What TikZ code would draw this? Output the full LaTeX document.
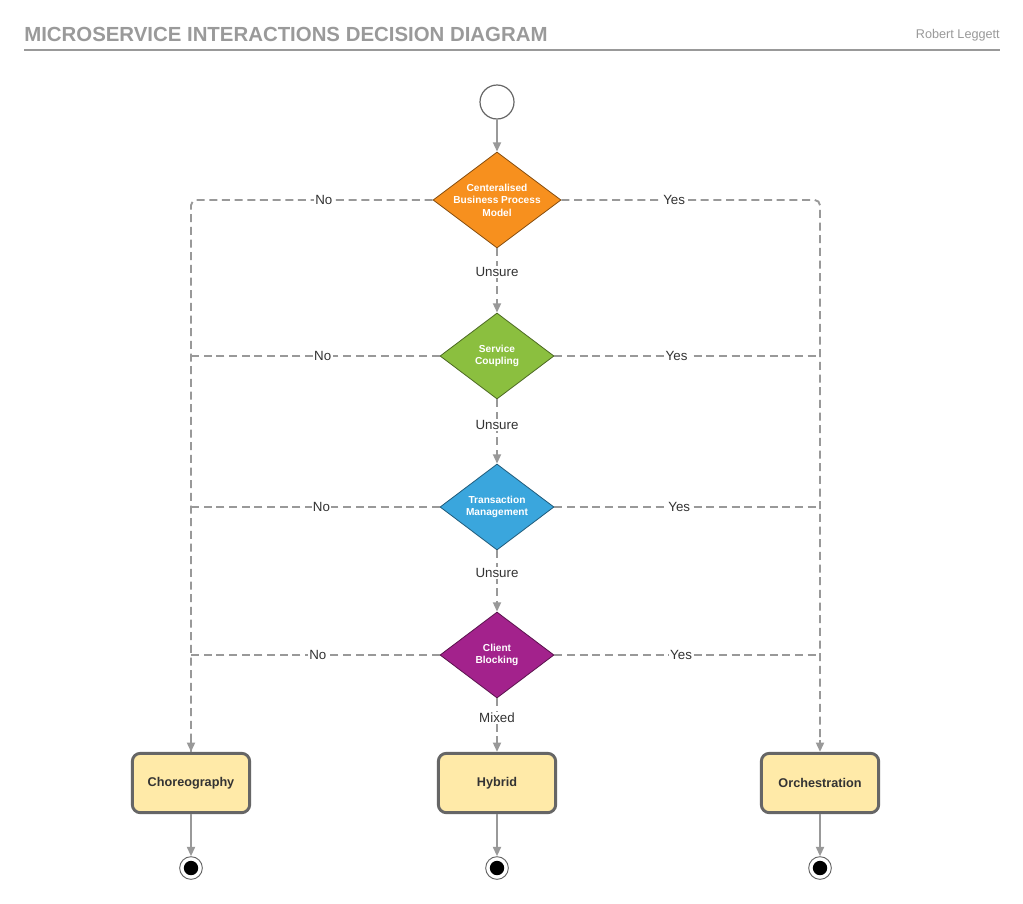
\documentclass[tikz,border=0pt]{standalone}
\usepackage{fontspec}
\setmainfont{Liberation Sans}
\usetikzlibrary{shapes.geometric,arrows.meta}
\definecolor{titlegray}{HTML}{9A9A9A}
\definecolor{linegray}{HTML}{999999}
\definecolor{labelgray}{HTML}{333333}
\definecolor{dorange}{HTML}{F7901E}
\definecolor{dgreen}{HTML}{8BBF3F}
\definecolor{dblue}{HTML}{3AA6DD}
\definecolor{dpurple}{HTML}{A3228C}
\definecolor{boxfill}{HTML}{FFEAA8}
\definecolor{boxline}{HTML}{666666}
\tikzset{
  decision/.style={diamond, draw=#1!55!black, fill=#1, line width=0.6pt, inner sep=0pt,
    minimum width=85.5pt, minimum height=64.5pt},
  dtext/.style={align=center, text=white, font=\bfseries\fontsize{7.6}{9.4}\selectfont},
  outcome/.style={rectangle, rounded corners=6pt, draw=boxline, fill=boxfill, line width=2.2pt,
    minimum width=88pt, minimum height=44.5pt, text=labelgray, font=\bfseries\fontsize{9.5}{11}\selectfont},
  startnode/.style={circle, draw=boxline, fill=white, line width=0.9pt, minimum size=25.5pt, inner sep=0pt},
  endnode/.style={circle, draw=boxline, fill=white, line width=0.7pt, minimum size=17pt, inner sep=0pt,
    path picture={\fill[black] (path picture bounding box.center) circle (5.4pt);}},
  flow/.style={draw=linegray, line width=1.4pt, -{Triangle[length=7pt,width=6pt]}},
  dflow/.style={draw=linegray, line width=1.4pt, dash pattern=on 6pt off 3.5pt},
  arrowtip/.style={-{Triangle[length=7pt,width=6pt]}},
  lbl/.style={fill=white, inner sep=1pt, text=labelgray, font=\fontsize{10}{12}\selectfont}
}
\begin{document}
\begin{tikzpicture}[x=0.75pt,y=-0.75pt]
\useasboundingbox[fill=white] (0,0) rectangle (1023,903);

% header
\node[anchor=base west, inner sep=0pt, text=titlegray, font=\bfseries\fontsize{15.3}{18}\selectfont] (title) at (24,41) {MICROSERVICE INTERACTIONS DECISION DIAGRAM};
\node[anchor=base east, inner sep=0pt, text=titlegray, font=\fontsize{9.5}{11}\selectfont] (author) at (1000,38) {Robert Leggett};
\coordinate (ruleL) at (24,50);
\coordinate (ruleR) at (1000,50);
\draw[linegray, line width=0.8pt] (ruleL) -- (ruleR);

% nodes
\node[startnode] (start) at (497,102) {};
\node[decision=dorange, minimum width=96pt, minimum height=72pt,
  label={[dtext]center:Centeralised\\Business Process\\Model}] (d1) at (497,200) {};
\node[decision=dgreen, label={[dtext]center:Service\\Coupling}] (d2) at (497,356) {};
\node[decision=dblue, label={[dtext]center:Transaction\\Management}] (d3) at (497,507) {};
\node[decision=dpurple, label={[dtext]center:Client\\Blocking}] (d4) at (497,655) {};

\node[outcome] (chor) at (191,783) {Choreography};
\node[outcome] (hyb) at (497,783) {Hybrid};
\node[outcome] (orch) at (820,783) {Orchestration};

\node[endnode] (e1) at (191,868) {};
\node[endnode] (e2) at (497,868) {};
\node[endnode] (e3) at (820,868) {};

% solid arrows
\draw[flow] (start) -- (d1.north);
\draw[flow] (chor) -- (e1);
\draw[flow] (hyb) -- (e2);
\draw[flow] (orch) -- (e3);

% dashed trunk connectors
\draw[dflow, rounded corners=4pt] (d1.west) -| node[lbl, pos=0.225] {No} (chor.north);
\draw[linegray, line width=1.4pt, arrowtip] ([yshift=9pt]chor.north) -- (chor.north);
\draw[dflow, rounded corners=4pt] (d1.east) -| node[lbl, pos=0.218] {Yes} (orch.north);
\draw[linegray, line width=1.4pt, arrowtip] ([yshift=9pt]orch.north) -- (orch.north);

% side branches
\draw[dflow] (d2.west) -- node[lbl, pos=0.47] {No} (d2.west -| chor.north);
\draw[dflow] (d2.east) -- node[lbl, pos=0.46] {Yes} (d2.east -| orch.north);
\draw[dflow] (d3.west) -- node[lbl, pos=0.475] {No} (d3.west -| chor.north);
\draw[dflow] (d3.east) -- node[lbl, pos=0.47] {Yes} (d3.east -| orch.north);
\draw[dflow] (d4.west) -- node[lbl, pos=0.49] {No} (d4.west -| chor.north);
\draw[dflow] (d4.east) -- node[lbl, pos=0.477] {Yes} (d4.east -| orch.north);

% vertical chain
\draw[dflow] (d1.south) -- node[lbl, pos=0.43] {Unsure} ([yshift=7pt]d2.north);
\draw[linegray, line width=1.4pt, arrowtip] ([yshift=8pt]d2.north) -- (d2.north);
\draw[dflow] (d2.south) -- node[lbl, pos=0.465] {Unsure} ([yshift=7pt]d3.north);
\draw[linegray, line width=1.4pt, arrowtip] ([yshift=8pt]d3.north) -- (d3.north);
\draw[dflow] (d3.south) -- node[lbl, pos=0.43] {Unsure} ([yshift=7pt]d4.north);
\draw[linegray, line width=1.4pt, arrowtip] ([yshift=8pt]d4.north) -- (d4.north);
\draw[dflow] (d4.south) -- node[lbl, pos=0.44] {Mixed} ([yshift=7pt]hyb.north);
\draw[linegray, line width=1.4pt, arrowtip] ([yshift=8pt]hyb.north) -- (hyb.north);
\end{tikzpicture}
\end{document}
